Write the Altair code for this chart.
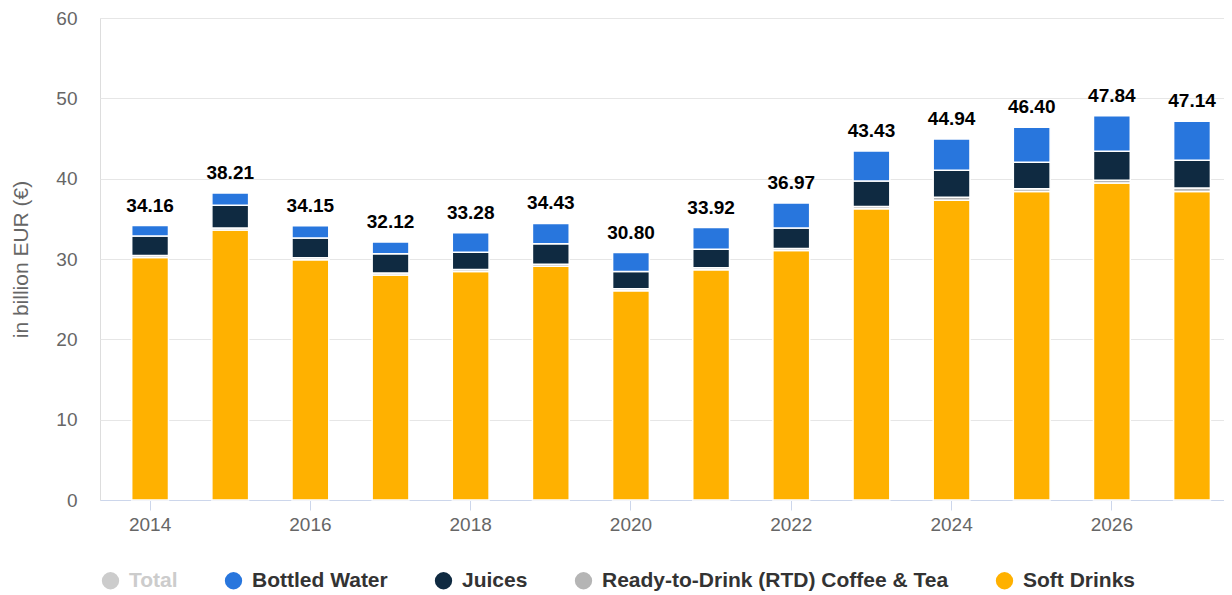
import altair as alt
import pandas as pd

years = [str(y) for y in range(2014, 2028)]
totals = [34.16, 38.21, 34.15, 32.12, 33.28, 34.43, 30.80, 33.92, 36.97, 43.43, 44.94, 46.40, 47.84, 47.14]
soft_drinks = [30.20, 33.60, 29.90, 28.00, 28.45, 29.10, 26.05, 28.65, 31.05, 36.25, 37.30, 38.40, 39.45, 38.40]
rtd_coffee_tea = [0.25, 0.25, 0.25, 0.25, 0.25, 0.25, 0.25, 0.25, 0.25, 0.30, 0.40, 0.35, 0.35, 0.45]
juices = [2.40, 2.85, 2.45, 2.40, 2.15, 2.55, 2.15, 2.30, 2.55, 3.15, 3.35, 3.30, 3.60, 3.45]
bottled_water = [1.31, 1.51, 1.55, 1.47, 2.43, 2.53, 2.35, 2.72, 3.12, 3.73, 3.89, 4.35, 4.44, 4.84]

series_names = ["Total", "Bottled Water", "Juices", "Ready-to-Drink (RTD) Coffee & Tea", "Soft Drinks"]
series_colors = ["#cccccc", "#2876dd", "#0f2a41", "#b5b5b5", "#ffb100"]
stack_order = {"Soft Drinks": 0, "Ready-to-Drink (RTD) Coffee & Tea": 1, "Juices": 2, "Bottled Water": 3}

rows = []
for i, y in enumerate(years):
    for name, vals in [("Soft Drinks", soft_drinks), ("Ready-to-Drink (RTD) Coffee & Tea", rtd_coffee_tea),
                       ("Juices", juices), ("Bottled Water", bottled_water)]:
        rows.append({"year": y, "series": name, "value": vals[i], "order": stack_order[name]})
df = pd.DataFrame(rows)
df_tot = pd.DataFrame({"year": years, "total": totals, "label": [f"{t:.2f}" for t in totals]})

font = "Liberation Sans"

x_enc = alt.X("year:O", title=None, sort=years,
              scale=alt.Scale(paddingInner=0.541, paddingOuter=0.2825, align=0.7),
              axis=alt.Axis(values=[y for y in years if int(y) % 2 == 0], labelAngle=0,
                            labelColor="#666666", labelFontSize=19, labelFont=font, labelPadding=5,
                            tickColor="#ccd6eb", tickSize=10, domainColor="#ccd6eb", bandPosition=0.5,
                            grid=False))

bars = alt.Chart(df).mark_bar(stroke="white", strokeWidth=1.5).encode(
    x=x_enc,
    y=alt.Y("value:Q", stack="zero", title="in billion EUR (€)",
            scale=alt.Scale(domain=[0, 60]),
            axis=alt.Axis(values=[0, 10, 20, 30, 40, 50, 60], labelColor="#666666", labelFontSize=19,
                          labelFont=font, labelPadding=23, ticks=False, domain=False,
                          gridColor="#e6e6e6", titleColor="#666666", titleFontSize=21,
                          titleFont=font, titleFontWeight="normal", titlePadding=24)),
    color=alt.Color("series:N",
                    scale=alt.Scale(domain=series_names, range=series_colors),
                    legend=alt.Legend(title=None, orient="bottom", direction="horizontal",
                                      symbolType="circle", symbolSize=300, symbolStrokeWidth=0,
                                      labelFontSize=21, labelFont=font, labelFontWeight="bold",
                                      labelColor={"expr": "datum.label == 'Total' ? '#cccccc' : '#333333'"},
                                      columnPadding=45, labelLimit=500, labelOffset=8, offset=36)),
    order=alt.Order("order:Q", sort="ascending"),
)

labels = alt.Chart(df_tot).mark_text(baseline="bottom", dy=-10, fontSize=19, fontWeight="bold",
                                     font=font, color="#000000").encode(
    x=alt.X("year:O", sort=years),
    y=alt.Y("total:Q"),
    text="label:N",
)

chart = alt.layer(bars, labels).properties(
    width=1216, height=587,
    autosize=alt.AutoSizeParams(type="fit", contains="padding"),
    padding={"left": 2, "right": 0, "top": 1, "bottom": 4},
).configure_view(stroke=None).configure(background="white")

chart.save("out.html", embed_options={"renderer": "svg", "actions": False})
